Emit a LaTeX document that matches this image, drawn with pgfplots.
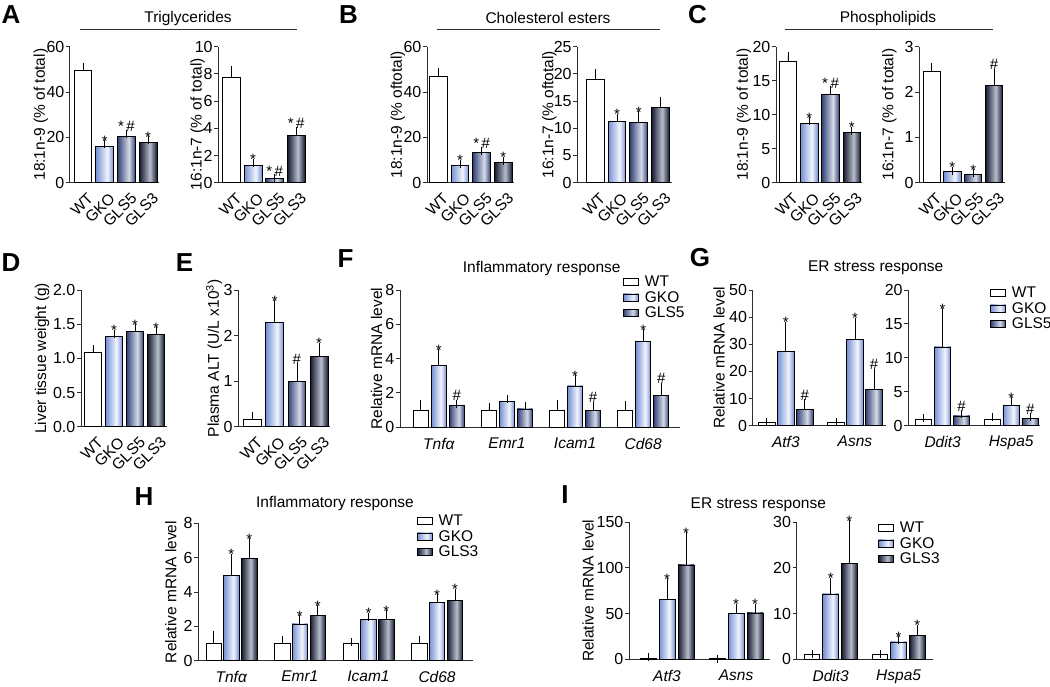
\documentclass[border=0pt]{standalone}
\usepackage{fontspec}
\setmainfont{Liberation Sans}
\usepackage{pgfplots}
\pgfplotsset{compat=1.18}
\definecolor{gkoD}{RGB}{118,144,212}
\definecolor{gkoL}{RGB}{242,245,252}
\definecolor{g5D}{RGB}{50,66,118}
\definecolor{g5L}{RGB}{214,219,232}
\definecolor{g3D}{RGB}{20,25,46}
\definecolor{g3L}{RGB}{185,190,204}
\definecolor{axc}{RGB}{45,45,45}
\pgfdeclarehorizontalshading{shgko}{100bp}{color(0bp)=(gkoD); color(25bp)=(gkoD); color(57bp)=(gkoL); color(75bp)=(gkoD); color(100bp)=(gkoD)}
\pgfdeclarehorizontalshading{shgfive}{100bp}{color(0bp)=(g5D); color(25bp)=(g5D); color(57bp)=(g5L); color(75bp)=(g5D); color(100bp)=(g5D)}
\pgfdeclarehorizontalshading{shgthree}{100bp}{color(0bp)=(g3D); color(25bp)=(g3D); color(55bp)=(g3L); color(75bp)=(g3D); color(100bp)=(g3D)}
\newcommand\tickf{\fontsize{16}{18}\selectfont}
\newcommand\labf{\fontsize{15.5}{18}\selectfont}
\newcommand\annf{\fontsize{15}{16}\selectfont}
\newcommand\letf{\fontsize{26}{28}\selectfont\bfseries}
\newcommand\st[2]{\node[anchor=base,font=\annf,inner sep=0pt,yshift=-2pt] at (axis cs:#1,#2) {*};}
\newcommand\hs[2]{\node[anchor=base,font=\annf,inner sep=0pt,yshift=3pt] at (axis cs:#1,#2) {\#};}
\newcommand\sh[2]{\node[anchor=base,font=\annf,inner sep=0pt,yshift=2pt] at (axis cs:#1,#2) {*\,\#};}
\pgfplotsset{
  base/.style={scale only axis, clip=false, axis lines*=left,
    axis line style={-, line width=1pt, axc},
    ymin=0, enlargelimits=false,
    tick align=outside, major tick length=4pt,
    ytick style={line width=1pt, axc},
    xtick style={draw=none},
    /pgf/number format/assume math mode=true,
    yticklabel style={font=\tickf, inner sep=1.5pt},
    ylabel style={font=\labf},
    legend cell align=left},
  yl/.style 2 args={ylabel style={at={(axis description cs:-#1,#2)}, anchor=center}},
  one/.style={base, xtick={0,1,2,3}, xticklabels={WT,GKO,GLS5,GLS3},
    xticklabel style={font=\labf, rotate=45, anchor=north east, inner sep=1pt, yshift=-5pt}},
  grp/.style={base, xticklabel style={font=\labf\itshape, yshift=-3pt}},
  bstyle/.style={ybar, bar shift=0pt, draw=black, line width=0.8pt,
    error bars/y dir=plus, error bars/y explicit,
    error bars/error bar style={line width=0.8pt, black},
    error bars/error mark options={line width=0.8pt, black, mark size=4pt}},
  wt/.style={bstyle, fill=white},
  gko/.style={bstyle, shade, shading=shgko},
  gfive/.style={bstyle, shade, shading=shgfive},
  gthree/.style={bstyle, shade, shading=shgthree},
  leg/.style={legend style={at={#1}, anchor=north west, draw=none, fill=none, font=\labf, inner sep=0pt, row sep=1pt, nodes={inner sep=1pt},
      /tikz/every odd column/.append style={column sep=5pt}},
    legend image code/.code={\draw[##1,/tikz/.cd] (0pt,-3.5pt) rectangle (15pt,3.5pt);}},
}
\begin{document}
\begin{tikzpicture}
\path[use as bounding box] (0,0) rectangle (1050pt,-687pt);
% ---- titles and letters
\node[font=\letf] at (11pt,-15pt) {A};
\node[font=\letf] at (348.5pt,-15pt) {B};
\node[font=\letf] at (697.5pt,-15pt) {C};
\node[font=\letf] at (11pt,-263pt) {D};
\node[font=\letf] at (184.5pt,-263pt) {E};
\node[font=\letf] at (345.5pt,-258.5pt) {F};
\node[font=\letf] at (700pt,-257.5pt) {G};
\node[font=\letf] at (144pt,-496.5pt) {H};
\node[font=\letf] at (565pt,-495pt) {I};
\node[font=\labf] at (188pt,-18pt) {Triglycerides};
\draw[line width=0.9pt, axc] (80pt,-29pt) -- (297pt,-29pt);
\node[font=\labf] at (548pt,-18pt) {Cholesterol esters};
\draw[line width=0.9pt, axc] (437pt,-29pt) -- (660pt,-29pt);
\node[font=\labf] at (888pt,-18pt) {Phospholipids};
\draw[line width=0.9pt, axc] (785pt,-29pt) -- (993pt,-29pt);
\node[font=\labf] at (541.7pt,-268pt) {Inflammatory response};
\node[font=\labf] at (875.7pt,-268pt) {ER stress response};
\node[font=\labf] at (335pt,-503.3pt) {Inflammatory response};
\node[font=\labf] at (758.3pt,-505pt) {ER stress response};
% ---- A left
\begin{axis}[one, yl={0.326}{0.5}, at={(70pt,-182.7pt)}, anchor=south west, width=89pt, height=136pt,
  xmin=-0.6, xmax=3.5, ymax=60, ytick={0,20,40,60}, bar width=0.815,
  ylabel={18:1n-9 (\% of total)}]
\addplot[wt] coordinates {(0,49.6) +- (0,1.5)};
\addplot[gko] coordinates {(1,15.9) +- (0,1.0)};
\addplot[gfive] coordinates {(2,20.3) +- (0,1.2)};
\addplot[gthree] coordinates {(3,17.6) +- (0,1.2)};
\st{1}{16.9}\sh{2}{21.5}\st{3}{18.8}
\end{axis}
% ---- A right
\begin{axis}[one, yl={0.235}{0.43}, at={(218.3pt,-182.7pt)}, anchor=south west, width=87.9pt, height=136pt,
  xmin=-0.62, xmax=3.47, ymax=10, ytick={0,2,4,6,8,10}, bar width=0.82,
  ylabel={16:1n-7 (\% of total)}]
\addplot[wt] coordinates {(0,7.75) +- (0,0.52)};
\addplot[gko] coordinates {(1,1.25) +- (0,0.22)};
\addplot[gfive] coordinates {(2,0.3) +- (0,0.04)};
\addplot[gthree] coordinates {(3,3.46) +- (0,0.35)};
\st{1}{1.47}\sh{2}{0.34}\sh{3}{3.81}
\end{axis}
% ---- B left
\begin{axis}[one, yl={0.333}{0.5}, at={(427pt,-182.7pt)}, anchor=south west, width=87.2pt, height=136pt,
  xmin=-0.52, xmax=3.5, ymax=60, ytick={0,20,40,60}, bar width=0.815,
  ylabel={18:1n-9 (\% oftotal)}]
\addplot[wt] coordinates {(0,47.1) +- (0,1.9)};
\addplot[gko] coordinates {(1,7.5) +- (0,0.75)};
\addplot[gfive] coordinates {(2,13.2) +- (0,0.9)};
\addplot[gthree] coordinates {(3,8.8) +- (0,0.9)};
\st{1}{8.25}\sh{2}{14.1}\st{3}{9.7}
\end{axis}
% ---- B right
\begin{axis}[one, yl={0.297}{0.5}, at={(577.3pt,-182.7pt)}, anchor=south west, width=94.4pt, height=136pt,
  xmin=-0.83, xmax=3.52, ymax=25, ytick={0,5,10,15,20,25}, bar width=0.815,
  ylabel={16:1n-7 (\% oftotal)}]
\addplot[wt] coordinates {(0,18.9) +- (0,1.3)};
\addplot[gko] coordinates {(1,11.2) +- (0,0.75)};
\addplot[gfive] coordinates {(2,11.0) +- (0,1.4)};
\addplot[gthree] coordinates {(3,13.8) +- (0,1.3)};
\st{1}{11.95}\st{2}{12.4}
\end{axis}
% ---- C left
\begin{axis}[one, yl={0.375}{0.5}, at={(776pt,-182.7pt)}, anchor=south west, width=85.6pt, height=136pt,
  xmin=-0.56, xmax=3.46, ymax=20, ytick={0,5,10,15,20}, bar width=0.82,
  ylabel={18:1n-9 (\% of total)}]
\addplot[wt] coordinates {(0,17.8) +- (0,0.8)};
\addplot[gko] coordinates {(1,8.7) +- (0,0.3)};
\addplot[gfive] coordinates {(2,13.0) +- (0,0.6)};
\addplot[gthree] coordinates {(3,7.35) +- (0,0.3)};
\st{1}{9.0}\sh{2}{13.6}\st{3}{7.65}
\end{axis}
% ---- C right
\begin{axis}[one, yl={0.351}{0.5}, at={(919.3pt,-182.7pt)}, anchor=south west, width=85.5pt, height=136pt,
  xmin=-0.59, xmax=3.52, ymax=3, ytick={0,1,2,3}, bar width=0.82,
  ylabel={16:1n-7 (\% of total)}]
\addplot[wt] coordinates {(0,2.45) +- (0,0.1)};
\addplot[gko] coordinates {(1,0.24) +- (0,0.025)};
\addplot[gfive] coordinates {(2,0.19) +- (0,0.02)};
\addplot[gthree] coordinates {(3,2.15) +- (0,0.28)};
\st{1}{0.27}\st{2}{0.21}\hs{3}{2.44}
\end{axis}
% ---- D
\begin{axis}[one, yl={0.454}{0.5}, at={(81pt,-426.7pt)}, anchor=south west, width=85.9pt, height=136.7pt,
  xmin=-0.57, xmax=3.52, ymax=2, ytick={0,0.5,1,1.5,2}, bar width=0.8,
  yticklabel style={/pgf/number format/.cd, fixed, fixed zerofill, precision=1},
  ylabel={Liver tissue weight (g)}]
\addplot[wt] coordinates {(0,1.083) +- (0,0.054)};
\addplot[gko] coordinates {(1,1.317) +- (0,0.04)};
\addplot[gfive] coordinates {(2,1.40) +- (0,0.04)};
\addplot[gthree] coordinates {(3,1.345) +- (0,0.055)};
\st{1}{1.36}\st{2}{1.44}\st{3}{1.40}
\end{axis}
% ---- E
\begin{axis}[one, yl={0.265}{0.5}, at={(238.3pt,-426.7pt)}, anchor=south west, width=91.7pt, height=136.7pt,
  xmin=-0.64, xmax=3.49, ymax=3, ytick={0,1,2,3}, bar width=0.8,
  ylabel={Plasma ALT (U/L x10\textsuperscript{3})}]
\addplot[wt] coordinates {(0,0.16) +- (0,0.08)};
\addplot[gko] coordinates {(1,2.29) +- (0,0.4)};
\addplot[gfive] coordinates {(2,0.99) +- (0,0.31)};
\addplot[gthree] coordinates {(3,1.54) +- (0,0.22)};
\st{1}{2.69}\hs{2}{1.30}\st{3}{1.76}
\end{axis}
% ---- F
\begin{axis}[grp, yl={0.084}{0.5}, at={(400pt,-427.3pt)}, anchor=south west, width=280pt, height=137.3pt,
  xmin=-0.57, xmax=3.54, ymax=8, ytick={0,2,4,6,8}, bar width=0.22,
  xtick={0,1,2,3}, xticklabels={Tnfα,Emr1,Icam1,Cd68},
  ylabel={Relative mRNA level}, leg={(0.796,1.11)}]
\addplot[wt] coordinates {(-0.264,1.0) +- (0,0.33) (0.736,1.0) +- (0,0.2) (1.736,1.0) +- (0,0.36) (2.736,1.0) +- (0,0.3)};
\addlegendentry{WT}
\addplot[gko] coordinates {(0,3.63) +- (0,0.68)};
\addlegendentry{GKO}
\addplot[gfive] coordinates {(0.264,1.26) +- (0,0.1)};
\addlegendentry{GLS5}
\addplot[gko, forget plot] coordinates {(1,1.49) +- (0,0.14)};
\addplot[gko, forget plot] coordinates {(2,2.41) +- (0,0.39)};
\addplot[gko, forget plot] coordinates {(3,4.99) +- (0,0.49)};
\addplot[gfive, forget plot] coordinates {(1.264,1.07) +- (0,0.19)};
\addplot[gfive, forget plot] coordinates {(2.264,1.0) +- (0,0.26)};
\addplot[gfive, forget plot] coordinates {(3.264,1.84) +- (0,0.53)};
\st{0}{4.31}\hs{0.264}{1.36}\st{2}{2.8}\hs{2.264}{1.26}\st{3}{5.48}\hs{3.264}{2.37}
\end{axis}
% ---- G left
\begin{axis}[grp, yl={0.253}{0.5}, at={(752.7pt,-425.7pt)}, anchor=south west, width=133.3pt, height=135.7pt,
  xmin=-0.48, xmax=1.45, ymax=50, ytick={0,10,20,30,40,50}, bar width=0.24,
  xtick={0,1}, xticklabels={Atf3,Asns},
  ylabel={Relative mRNA level}]
\addplot[wt] coordinates {(-0.275,1.1) +- (0,0.3) (0.725,1.1) +- (0,0.3)};
\addplot[gko] coordinates {(0,27.5) +- (0,9.4)};
\addplot[gko] coordinates {(1,31.8) +- (0,6.5)};
\addplot[gfive] coordinates {(0.275,6.1) +- (0,2.1)};
\addplot[gfive] coordinates {(1.275,13.5) +- (0,6.0)};
\st{0}{36.9}\hs{0.275}{8.2}\st{1}{38.3}\hs{1.275}{19.5}
\end{axis}
% ---- G right
\begin{axis}[grp, at={(908.3pt,-425.7pt)}, anchor=south west, width=131.7pt, height=135.7pt,
  xmin=-0.5, xmax=1.42, ymax=20, ytick={0,5,10,15,20}, bar width=0.24,
  xtick={0,1}, xticklabels={Ddit3,Hspa5}, leg={(0.62,1.03)}]
\addplot[wt] coordinates {(-0.277,0.99) +- (0,0.1) (0.723,0.98) +- (0,0.35)};
\addlegendentry{WT}
\addplot[gko] coordinates {(0,11.6) +- (0,5.1)};
\addlegendentry{GKO}
\addplot[gfive] coordinates {(0.277,1.43) +- (0,0.29)};
\addlegendentry{GLS5}
\addplot[gko, forget plot] coordinates {(1,3.05) +- (0,0.59)};
\addplot[gfive, forget plot] coordinates {(1.277,1.08) +- (0,0.15)};
\st{0}{16.7}\hs{0.277}{1.72}\st{1}{3.64}\hs{1.277}{1.23}
\end{axis}
% ---- H
\begin{axis}[grp, yl={0.1}{0.5}, at={(198.3pt,-660.7pt)}, anchor=south west, width=274.4pt, height=137.4pt,
  xmin=-0.48, xmax=3.52, ymax=8, ytick={0,2,4,6,8}, bar width=0.226,
  xtick={0,1,2,3}, xticklabels={Tnfα,Emr1,Icam1,Cd68},
  ylabel={Relative mRNA level}, leg={(0.796,1.068)}]
\addplot[wt] coordinates {(-0.255,1.0) +- (0,0.5) (0.745,1.0) +- (0,0.2) (1.745,1.0) +- (0,0.1) (2.745,1.0) +- (0,0.2)};
\addlegendentry{WT}
\addplot[gko] coordinates {(0,4.95) +- (0,1.05)};
\addlegendentry{GKO}
\addplot[gthree] coordinates {(0.262,5.94) +- (0,0.95)};
\addlegendentry{GLS3}
\addplot[gko, forget plot] coordinates {(1,2.14) +- (0,0.27)};
\addplot[gko, forget plot] coordinates {(2,2.41) +- (0,0.15)};
\addplot[gko, forget plot] coordinates {(3,3.4) +- (0,0.23)};
\addplot[gthree, forget plot] coordinates {(1.262,2.64) +- (0,0.35)};
\addplot[gthree, forget plot] coordinates {(2.262,2.41) +- (0,0.29)};
\addplot[gthree, forget plot] coordinates {(3.262,3.51) +- (0,0.45)};
\st{0}{6.0}\st{0.262}{6.89}\st{1}{2.41}\st{1.262}{2.99}\st{2}{2.56}\st{2.262}{2.7}\st{3}{3.63}\st{3.262}{3.96}
\end{axis}
% ---- I left
\begin{axis}[grp, yl={0.29}{0.5}, at={(629pt,-659.3pt)}, anchor=south west, width=141pt, height=137pt,
  xmin=-0.55, xmax=1.49, ymax=150, ytick={0,50,100,150}, bar width=0.23,
  xtick={0,1}, xticklabels={Atf3,Asns},
  ylabel={Relative mRNA level}]
\addplot[wt] coordinates {(-0.275,1.5) +- (0,0.7) (0.725,0.5) +- (0,0.1)};
\addplot[gko] coordinates {(0,65.7) +- (0,18.6)};
\addplot[gko] coordinates {(1,50.0) +- (0,6.6)};
\addplot[gthree] coordinates {(0.275,103.3) +- (0,31.7)};
\addplot[gthree] coordinates {(1.275,50.7) +- (0,5.9)};
\st{0}{84.3}\st{0.275}{135}\st{1}{56.6}\st{1.275}{56.6}
\end{axis}
% ---- I right
\begin{axis}[grp, at={(796.7pt,-659.3pt)}, anchor=south west, width=136.6pt, height=137pt,
  xmin=-0.5, xmax=1.51, ymax=30, ytick={0,10,20,30}, bar width=0.23,
  xtick={0,1}, xticklabels={Ddit3,Hspa5}, leg={(0.595,1.01)}]
\addplot[wt] coordinates {(-0.275,1.1) +- (0,0) (0.725,1.1) +- (0,0)};
\addlegendentry{WT}
\addplot[gko] coordinates {(0,14.3) +- (0,2.7)};
\addlegendentry{GKO}
\addplot[gthree] coordinates {(0.275,20.9) +- (0,8.7)};
\addlegendentry{GLS3}
\addplot[gko, forget plot] coordinates {(1,3.8) +- (0,0.4)};
\addplot[gthree, forget plot] coordinates {(1.275,5.3) +- (0,1.4)};
\st{0}{17.0}\st{0.275}{29.6}\st{1}{4.2}\st{1.275}{6.7}
\end{axis}
\end{tikzpicture}
\end{document}
